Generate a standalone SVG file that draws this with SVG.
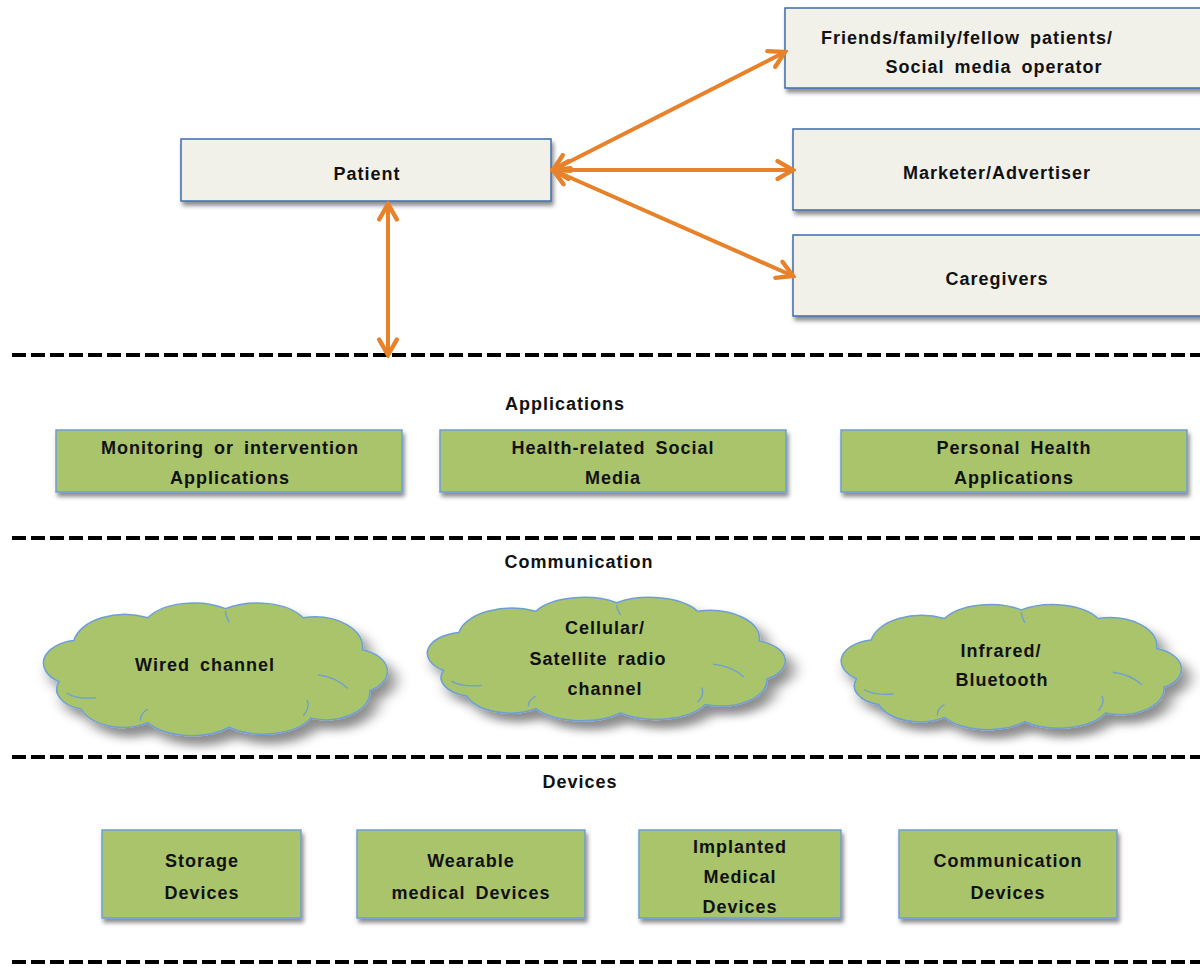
<svg xmlns="http://www.w3.org/2000/svg" width="1200" height="968" viewBox="0 0 1200 968">
<defs>
<style>
.t{font-family:"Liberation Sans",Arial,sans-serif;font-weight:bold;font-size:18px;letter-spacing:1px;word-spacing:4px;fill:#111;text-anchor:middle}
.beige{fill:#f1f0e9;stroke:#3f6ca8;stroke-width:1.5}
.green{fill:#a9c46b;stroke:#6d9ed6;stroke-width:1.5}
.cloud{fill:#a9c46b;stroke:#6d9ed6;stroke-width:1.5}
.inner{fill:none;stroke:#6d9ed6;stroke-width:1.3}
.dash{stroke:#000;stroke-width:4;stroke-dasharray:14 5;fill:none}
.arr{stroke:#e8822a;stroke-width:4;fill:none;marker-start:url(#ah);marker-end:url(#ah)}
</style>
<filter id="sh" x="-10%" y="-10%" width="130%" height="150%">
<feDropShadow dx="2" dy="4" stdDeviation="2" flood-color="#000" flood-opacity="0.45"/>
</filter>
<marker id="ah" viewBox="0 0 10 10" refX="8.5" refY="5" markerWidth="5.5" markerHeight="5.5" orient="auto-start-reverse">
<path d="M1.5,1 L8.5,5 L1.5,9" fill="none" stroke="#e8822a" stroke-width="2" stroke-linejoin="miter" stroke-linecap="round"/>
</marker>
<path id="cl" vector-effect="non-scaling-stroke" d="M10,38 A10,10 0 0 1 14,20 A14,14 0 0 1 34,10 A14,12 0 0 1 55,6 A14,12 0 0 1 76,10 A13,13 0 0 1 92,24 A10,10 0 0 1 94,42 A12,12 0 0 1 78,54 A14,12 0 0 1 56,58 A14,12 0 0 1 34,56 A12,12 0 0 1 16,50 A9,9 0 0 1 10,38 Z"/>
<path id="ci" vector-effect="non-scaling-stroke" d="M12,43 Q15,46 20,45 M88,41 Q85,36 80,35 M76,53 Q78,49 77,46 M32,55 Q32,52 34,50 M56,12 Q55,9 55,7"/>
</defs>
<rect width="1200" height="968" fill="#fff"/>

<g id="separators">
<line class="dash" x1="12" y1="355" x2="1200" y2="355"/>
<line class="dash" x1="12" y1="538" x2="1200" y2="538"/>
<line class="dash" x1="12" y1="757" x2="1200" y2="757"/>
<line class="dash" x1="12" y1="962" x2="1200" y2="962"/>
</g>

<g id="patient">
<rect class="beige" x="181" y="139" width="370" height="62" filter="url(#sh)"/>
<text class="t" x="367" y="180">Patient</text>
</g>
<g id="friends">
<rect class="beige" x="785" y="8" width="420" height="80" filter="url(#sh)"/>
<text class="t" x="967" y="44">Friends/family/fellow patients/</text>
<text class="t" x="994" y="73">Social media operator</text>
</g>
<g id="marketer">
<rect class="beige" x="793" y="129" width="412" height="81" filter="url(#sh)"/>
<text class="t" x="997" y="179">Marketer/Advertiser</text>
</g>
<g id="caregivers">
<rect class="beige" x="793" y="235" width="412" height="81" filter="url(#sh)"/>
<text class="t" x="997" y="285">Caregivers</text>
</g>

<g id="connectors">
<line class="arr" x1="553" y1="170" x2="785" y2="52"/>
<line class="arr" x1="553" y1="170" x2="793" y2="170"/>
<line class="arr" x1="553" y1="170" x2="793" y2="276"/>
<line class="arr" x1="388" y1="204" x2="388" y2="355"/>
</g>

<g id="label-applications"><text class="t" x="565" y="410">Applications</text></g>
<g id="monitoring">
<rect class="green" x="56" y="430" width="346" height="62" filter="url(#sh)"/>
<text class="t" x="230" y="454">Monitoring or intervention</text>
<text class="t" x="230" y="484">Applications</text>
</g>
<g id="social">
<rect class="green" x="440" y="430" width="346" height="62" filter="url(#sh)"/>
<text class="t" x="613" y="454">Health-related Social</text>
<text class="t" x="613" y="484">Media</text>
</g>
<g id="personal">
<rect class="green" x="841" y="430" width="346" height="62" filter="url(#sh)"/>
<text class="t" x="1014" y="454">Personal Health</text>
<text class="t" x="1014" y="484">Applications</text>
</g>

<g id="label-communication"><text class="t" x="579" y="568">Communication</text></g>
<g id="wired">
<g transform="translate(22,595) scale(3.7,2.28)">
<use href="#cl" class="cloud" filter="url(#sh)"/>
<use href="#ci" class="inner"/>
</g>
<text class="t" x="205" y="671">Wired channel</text>
</g>
<g id="cellular">
<g transform="translate(405,590) scale(3.85,2.12)">
<use href="#cl" class="cloud" filter="url(#sh)"/>
<use href="#ci" class="inner"/>
</g>
<text class="t" x="605" y="634">Cellular/</text>
<text class="t" x="598" y="665">Satellite  radio</text>
<text class="t" x="605" y="695">channel</text>
</g>
<g id="infrared">
<g transform="translate(820,597) scale(3.66,2.15)">
<use href="#cl" class="cloud" filter="url(#sh)"/>
<use href="#ci" class="inner"/>
</g>
<text class="t" x="1001" y="657">Infrared/</text>
<text class="t" x="1002" y="686">Bluetooth</text>
</g>

<g id="label-devices"><text class="t" x="580" y="788">Devices</text></g>
<g id="storage">
<rect class="green" x="102" y="830" width="199" height="88" filter="url(#sh)"/>
<text class="t" x="202" y="867">Storage</text>
<text class="t" x="202" y="899">Devices</text>
</g>
<g id="wearable">
<rect class="green" x="357" y="830" width="228" height="88" filter="url(#sh)"/>
<text class="t" x="471" y="867">Wearable</text>
<text class="t" x="471" y="899">medical Devices</text>
</g>
<g id="implanted">
<rect class="green" x="639" y="830" width="202" height="88" filter="url(#sh)"/>
<text class="t" x="740" y="853">Implanted</text>
<text class="t" x="740" y="883">Medical</text>
<text class="t" x="740" y="913">Devices</text>
</g>
<g id="commdevices">
<rect class="green" x="899" y="830" width="218" height="88" filter="url(#sh)"/>
<text class="t" x="1008" y="867">Communication</text>
<text class="t" x="1008" y="899">Devices</text>
</g>
</svg>
